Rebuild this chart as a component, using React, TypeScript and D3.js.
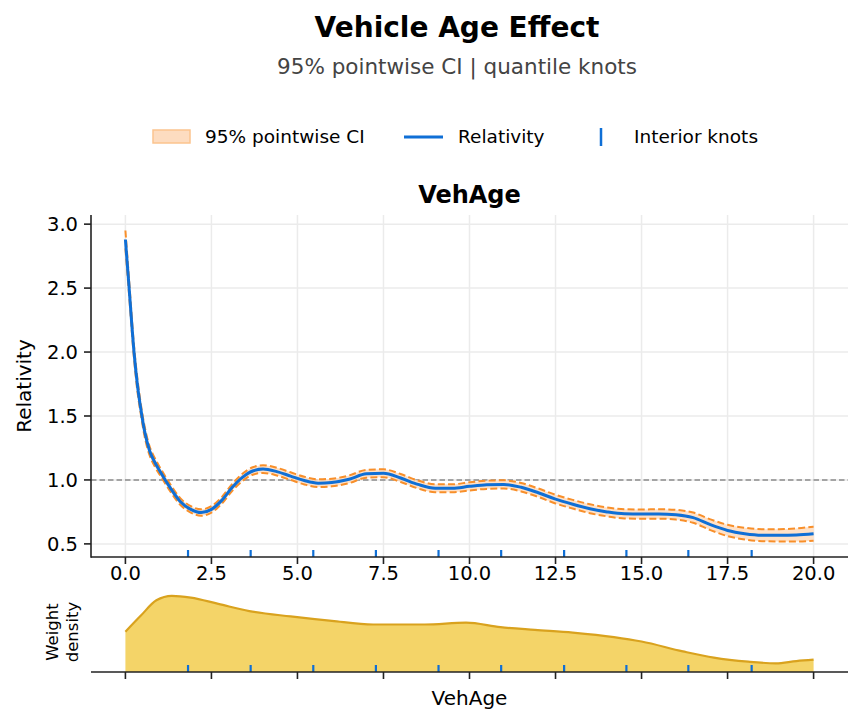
import React from 'react';
import * as d3 from 'd3';

// fitted spline for vehicle age, with 95% pointwise band
const vehAge = [0, 0.1, 0.25, 0.35, 0.45, 0.55, 0.7, 0.85, 1.0, 1.3, 1.6, 1.9, 2.2, 2.5, 2.8, 3.1, 3.4, 3.7, 4.0, 4.4, 4.8, 5.2, 5.6, 6.0, 6.5, 7.0, 7.5, 8.0, 8.5, 9.0, 9.5, 10.0, 10.5, 11.0, 11.5, 12.0, 12.5, 13.0, 13.5, 14.0, 14.5, 15.0, 15.5, 16.0, 16.5, 17.0, 17.5, 18.0, 18.5, 19.0, 19.5, 20.0];
const relativity = [2.88, 2.53, 2.0, 1.74, 1.55, 1.39, 1.23, 1.14, 1.07, 0.94, 0.83, 0.77, 0.745, 0.77, 0.84, 0.94, 1.02, 1.07, 1.085, 1.065, 1.03, 0.995, 0.975, 0.98, 1.005, 1.048, 1.052, 1.015, 0.965, 0.935, 0.935, 0.95, 0.962, 0.965, 0.943, 0.9, 0.85, 0.81, 0.775, 0.75, 0.735, 0.733, 0.734, 0.728, 0.705, 0.65, 0.605, 0.58, 0.568, 0.567, 0.57, 0.58];
const ciLower = [2.81, 2.47, 1.95, 1.69, 1.51, 1.35, 1.195, 1.107, 1.04, 0.912, 0.804, 0.745, 0.72, 0.745, 0.814, 0.913, 0.992, 1.041, 1.055, 1.035, 1.0, 0.965, 0.945, 0.95, 0.975, 1.017, 1.021, 0.984, 0.934, 0.904, 0.904, 0.918, 0.93, 0.933, 0.91, 0.867, 0.816, 0.776, 0.74, 0.715, 0.699, 0.697, 0.697, 0.69, 0.665, 0.608, 0.561, 0.534, 0.521, 0.519, 0.519, 0.525];
const ciUpper = [2.95, 2.59, 2.05, 1.79, 1.59, 1.43, 1.265, 1.173, 1.1, 0.968, 0.856, 0.795, 0.77, 0.795, 0.866, 0.967, 1.048, 1.099, 1.115, 1.095, 1.06, 1.025, 1.005, 1.01, 1.035, 1.079, 1.083, 1.046, 0.996, 0.966, 0.966, 0.982, 0.994, 0.997, 0.976, 0.933, 0.884, 0.844, 0.81, 0.785, 0.771, 0.769, 0.771, 0.766, 0.745, 0.692, 0.649, 0.626, 0.615, 0.615, 0.621, 0.635];

// quantile-placed interior knots
const knots = [1.82, 3.64, 5.46, 7.28, 9.1, 10.92, 12.75, 14.56, 16.36, 18.2];

// exposure weight density over vehicle age
const densityAge = [0, 0.45, 0.9, 1.35, 1.9, 2.7, 3.6, 4.8, 6.0, 7.2, 8.7, 9.9, 10.9, 11.9, 13.0, 14.2, 15.0, 16.2, 17.1, 18.1, 18.9, 19.5, 20.0];
const densityWeight = [0.045, 0.063, 0.08, 0.085, 0.083, 0.076, 0.068, 0.062, 0.057, 0.053, 0.053, 0.055, 0.05, 0.047, 0.044, 0.039, 0.034, 0.023, 0.016, 0.0115, 0.0097, 0.0122, 0.0137];

const xTicks = [0, 2.5, 5, 7.5, 10, 12.5, 15, 17.5, 20];
const yTicks = [0.5, 1.0, 1.5, 2.0, 2.5, 3.0];

const W = 861;
const H = 724;
const FONT = 'DejaVu Sans, Verdana, sans-serif';
const BLUE = '#0f6fd6';
const ORANGE = '#f88f2a';
const GRID = '#ebebeb';

const main = { left: 91, right: 848, top: 215, bottom: 557 };
const dens = { top: 592, bottom: 672 };

export default function App() {
  const x = d3.scaleLinear().domain([-1, 21]).range([main.left, main.right]);

  const lo = d3.min(ciLower) as number;
  const hi = d3.max(ciUpper) as number;
  const pad = (hi - lo) * 0.05;
  const y = d3.scaleLinear().domain([lo - pad, hi + pad]).range([main.bottom, main.top]);

  const yd = d3
    .scaleLinear()
    .domain([0, (d3.max(densityWeight) as number) * 1.05])
    .range([dens.bottom, dens.top]);

  const idx = vehAge.map((_, i) => i);

  const band = d3
    .area<number>()
    .x((i) => x(vehAge[i]))
    .y0((i) => y(ciLower[i]))
    .y1((i) => y(ciUpper[i]))
    .curve(d3.curveMonotoneX);

  const line = (vals: number[]) =>
    d3
      .line<number>()
      .x((i) => x(vehAge[i]))
      .y((i) => y(vals[i]))
      .curve(d3.curveMonotoneX)(idx) as string;

  const didx = densityAge.map((_, i) => i);
  const densArea = d3
    .area<number>()
    .x((i) => x(densityAge[i]))
    .y0(dens.bottom)
    .y1((i) => yd(densityWeight[i]))
    .curve(d3.curveMonotoneX)(didx) as string;
  const densLine = d3
    .line<number>()
    .x((i) => x(densityAge[i]))
    .y((i) => yd(densityWeight[i]))
    .curve(d3.curveMonotoneX)(didx) as string;

  return (
    <svg width={W} height={H} style={{ display: 'block', position: 'absolute', left: 0, top: 0 }} fontFamily={FONT}>
      <rect width={W} height={H} fill="#fff" />

      {/* headings */}
      <text x={457} y={37} textAnchor="middle" fontSize={28} fontWeight="bold" fill="#000">
        Vehicle Age Effect
      </text>
      <text x={457} y={74} textAnchor="middle" fontSize={21.5} fill="#444">
        95% pointwise CI | quantile knots
      </text>

      {/* legend */}
      <g fontSize={18.5} fill="#000">
        <rect x={153} y={130} width={37} height={13} fill="#fddcc0" stroke="#fbc48e" strokeWidth={1.5} />
        <text x={205} y={143}>95% pointwise CI</text>
        <line x1={404} x2={443} y1={137} y2={137} stroke={BLUE} strokeWidth={3} />
        <text x={458} y={143}>Relativity</text>
        <line x1={601} x2={601} y1={128} y2={146} stroke={BLUE} strokeWidth={2.5} />
        <text x={634} y={143}>Interior knots</text>
      </g>

      <text x={(main.left + main.right) / 2} y={203} textAnchor="middle" fontSize={24} fontWeight="bold">
        VehAge
      </text>

      {/* grid */}
      <g stroke={GRID} strokeWidth={1.5}>
        {xTicks.map((t) => (
          <line key={'gx' + t} x1={x(t)} x2={x(t)} y1={main.top} y2={main.bottom} />
        ))}
        {yTicks.map((t) => (
          <line key={'gy' + t} x1={main.left} x2={main.right} y1={y(t)} y2={y(t)} />
        ))}
      </g>

      {/* reference at relativity = 1 */}
      <line x1={main.left} x2={main.right} y1={y(1)} y2={y(1)} stroke="#8a8a8a" strokeWidth={1.6} strokeDasharray="5.5,3" />

      {/* confidence band and spline */}
      <path d={band(idx) as string} fill="#ffdcbd" opacity={0.85} />
      <path d={line(ciLower)} fill="none" stroke={ORANGE} strokeWidth={2} strokeDasharray="7,3.2" />
      <path d={line(ciUpper)} fill="none" stroke={ORANGE} strokeWidth={2} strokeDasharray="7,3.2" />
      <path d={line(relativity)} fill="none" stroke={BLUE} strokeWidth={3} />

      {/* knot rug */}
      <g stroke={BLUE} strokeWidth={2.2}>
        {knots.map((k) => (
          <line key={'k' + k} x1={x(k)} x2={x(k)} y1={main.bottom - 7} y2={main.bottom} />
        ))}
      </g>

      {/* axes */}
      <g stroke="#222" strokeWidth={1.6}>
        <line x1={main.left} x2={main.left} y1={main.top} y2={main.bottom + 0.8} />
        <line x1={main.left} x2={main.right} y1={main.bottom} y2={main.bottom} />
        {xTicks.map((t) => (
          <line key={'tx' + t} x1={x(t)} x2={x(t)} y1={main.bottom} y2={main.bottom + 7} />
        ))}
        {yTicks.map((t) => (
          <line key={'ty' + t} x1={main.left - 7} x2={main.left} y1={y(t)} y2={y(t)} />
        ))}
      </g>
      <g fontSize={19.5} fill="#000">
        {xTicks.map((t) => (
          <text key={'lx' + t} x={x(t)} y={580} textAnchor="middle">
            {t.toFixed(1)}
          </text>
        ))}
        {yTicks.map((t) => (
          <text key={'ly' + t} x={main.left - 13} y={y(t)} dy="0.35em" textAnchor="end">
            {t.toFixed(1)}
          </text>
        ))}
      </g>
      <text
        transform={`translate(31,${(main.top + main.bottom) / 2}) rotate(-90)`}
        textAnchor="middle"
        fontSize={20}
      >
        Relativity
      </text>

      {/* weight density panel */}
      <path d={densArea} fill="#f4d468" />
      <path d={densLine} fill="none" stroke="#d9a21e" strokeWidth={2.2} />
      <g stroke={BLUE} strokeWidth={2.2}>
        {knots.map((k) => (
          <line key={'dk' + k} x1={x(k)} x2={x(k)} y1={dens.bottom - 7} y2={dens.bottom} />
        ))}
      </g>
      <g stroke="#222" strokeWidth={1.6}>
        <line x1={main.left} x2={main.right} y1={dens.bottom} y2={dens.bottom} />
        {xTicks.map((t) => (
          <line key={'dt' + t} x1={x(t)} x2={x(t)} y1={dens.bottom} y2={dens.bottom + 7} />
        ))}
      </g>
      <text transform={`translate(0,${(dens.top + dens.bottom) / 2}) rotate(-90)`} textAnchor="middle" fontSize={16.5}>
        <tspan x={0} y={58}>Weight</tspan>
        <tspan x={0} y={78}>density</tspan>
      </text>
      <text x={(main.left + main.right) / 2} y={705} textAnchor="middle" fontSize={20}>
        VehAge
      </text>
    </svg>
  );
}
